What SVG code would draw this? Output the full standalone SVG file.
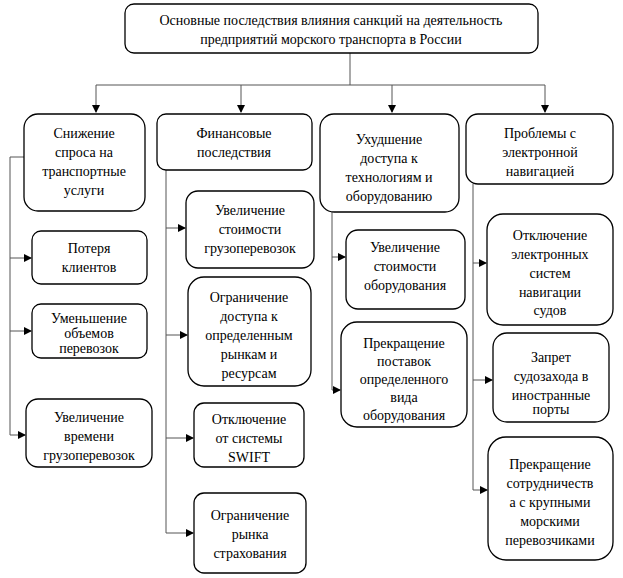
<svg xmlns="http://www.w3.org/2000/svg" width="623" height="578" viewBox="0 0 623 578">
<style>
.n rect{fill:#fff;stroke:#000;stroke-width:1.3}
text{font-family:'Liberation Serif','Times New Roman','DejaVu Serif',serif;font-size:14px;text-anchor:middle;fill:#000}
.c path{fill:none;stroke:#555;stroke-width:1}
</style>
<defs><marker id="a" markerWidth="8" markerHeight="8" refX="7" refY="4" orient="auto" markerUnits="userSpaceOnUse"><path d="M0,0 L8,4 L0,8 Z" fill="#000"/></marker></defs>
<rect width="623" height="578" style="fill:#fff;stroke:none"/>
<g class="c">
<path d="M350,53 V85 M96,85 H545"/>
<path d="M96,85 V112" marker-end="url(#a)"/>
<path d="M241,85 V112" marker-end="url(#a)"/>
<path d="M392,85 V112" marker-end="url(#a)"/>
<path d="M545,85 V112" marker-end="url(#a)"/>
<path d="M24,157 H10 V435"/>
<path d="M10,258 H31" marker-end="url(#a)"/>
<path d="M10,331 H31" marker-end="url(#a)"/>
<path d="M10,435 H25" marker-end="url(#a)"/>
<path d="M166,170 V533"/>
<path d="M166,228 H185" marker-end="url(#a)"/>
<path d="M166,335 H187" marker-end="url(#a)"/>
<path d="M166,438 H193" marker-end="url(#a)"/>
<path d="M166,533 H193" marker-end="url(#a)"/>
<path d="M332,212 V390"/>
<path d="M332,257 H345" marker-end="url(#a)"/>
<path d="M332,390 H340" marker-end="url(#a)"/>
<path d="M473,184 V490"/>
<path d="M473,263 H486" marker-end="url(#a)"/>
<path d="M473,380 H492" marker-end="url(#a)"/>
<path d="M473,490 H487" marker-end="url(#a)"/>
</g>
<g class="n">
<g id="root"><rect x="125" y="4" width="413" height="49" rx="9"/><text x="331" y="25">Основные последствия влияния санкций на деятельность</text><text x="331" y="44">предприятий морского транспорта в России</text></g>
<g id="c1"><rect x="24" y="114" width="121" height="97" rx="14"/><text x="84" y="138">Снижение</text><text x="84" y="157">спроса на</text><text x="84" y="176">транспортные</text><text x="84" y="195">услуги</text></g>
<g id="c1a"><rect x="32" y="231" width="115" height="53" rx="9"/><text x="89" y="253">Потеря</text><text x="89" y="272">клиентов</text></g>
<g id="c1b"><rect x="32" y="304" width="115" height="54" rx="9"/><text x="89" y="323">Уменьшение</text><text x="89" y="338">объемов</text><text x="89" y="353">перевозок</text></g>
<g id="c1c"><rect x="26" y="399" width="126" height="68" rx="12"/><text x="89" y="422">Увеличение</text><text x="89" y="441">времени</text><text x="89" y="460">грузоперевозок</text></g>
<g id="c2"><rect x="157" y="114" width="155" height="56" rx="9"/><text x="234" y="138">Финансовые</text><text x="234" y="157">последствия</text></g>
<g id="c2a"><rect x="186" y="191" width="128" height="77" rx="12"/><text x="250" y="215">Увеличение</text><text x="250" y="234">стоимости</text><text x="250" y="253">грузоперевозок</text></g>
<g id="c2b"><rect x="188" y="277" width="123" height="109" rx="16"/><text x="249" y="302">Ограничение</text><text x="249" y="321">доступа к</text><text x="249" y="340">определенным</text><text x="249" y="359">рынкам и</text><text x="249" y="378">ресурсам</text></g>
<g id="c2c"><rect x="194" y="403" width="110" height="64" rx="10"/><text x="249" y="424">Отключение</text><text x="249" y="443">от системы</text><text x="249" y="462">SWIFT</text></g>
<g id="c2d"><rect x="194" y="493" width="112" height="80" rx="10"/><text x="250" y="520">Ограничение</text><text x="250" y="539">рынка</text><text x="250" y="558">страхования</text></g>
<g id="c3"><rect x="320" y="114" width="139" height="98" rx="14"/><text x="389" y="144">Ухудшение</text><text x="389" y="163">доступа к</text><text x="389" y="182">технологиям и</text><text x="389" y="201">оборудованию</text></g>
<g id="c3a"><rect x="346" y="230" width="119" height="79" rx="12"/><text x="405" y="252">Увеличение</text><text x="405" y="271">стоимости</text><text x="405" y="290">оборудования</text></g>
<g id="c3b"><rect x="341" y="322" width="126" height="105" rx="16"/><text x="404" y="348">Прекращение</text><text x="404" y="366">поставок</text><text x="404" y="384">определенного</text><text x="404" y="402">вида</text><text x="404" y="420">оборудования</text></g>
<g id="c4"><rect x="466" y="114" width="147" height="70" rx="12"/><text x="540" y="138">Проблемы с</text><text x="540" y="157">электронной</text><text x="540" y="176">навигацией</text></g>
<g id="c4a"><rect x="487" y="214" width="126" height="111" rx="16"/><text x="550" y="240">Отключение</text><text x="550" y="259">электронных</text><text x="550" y="278">систем</text><text x="550" y="297">навигации</text><text x="550" y="315">судов</text></g>
<g id="c4b"><rect x="493" y="333" width="116" height="89" rx="14"/><text x="551" y="362">Запрет</text><text x="551" y="381">судозахода в</text><text x="551" y="400">иностранные</text><text x="551" y="414">порты</text></g>
<g id="c4c"><rect x="488" y="437" width="125" height="123" rx="18"/><text x="550" y="469">Прекращение</text><text x="550" y="488">сотрудничеств</text><text x="550" y="507">а с крупными</text><text x="550" y="526">морскими</text><text x="550" y="545">перевозчиками</text></g>
</g>
</svg>
